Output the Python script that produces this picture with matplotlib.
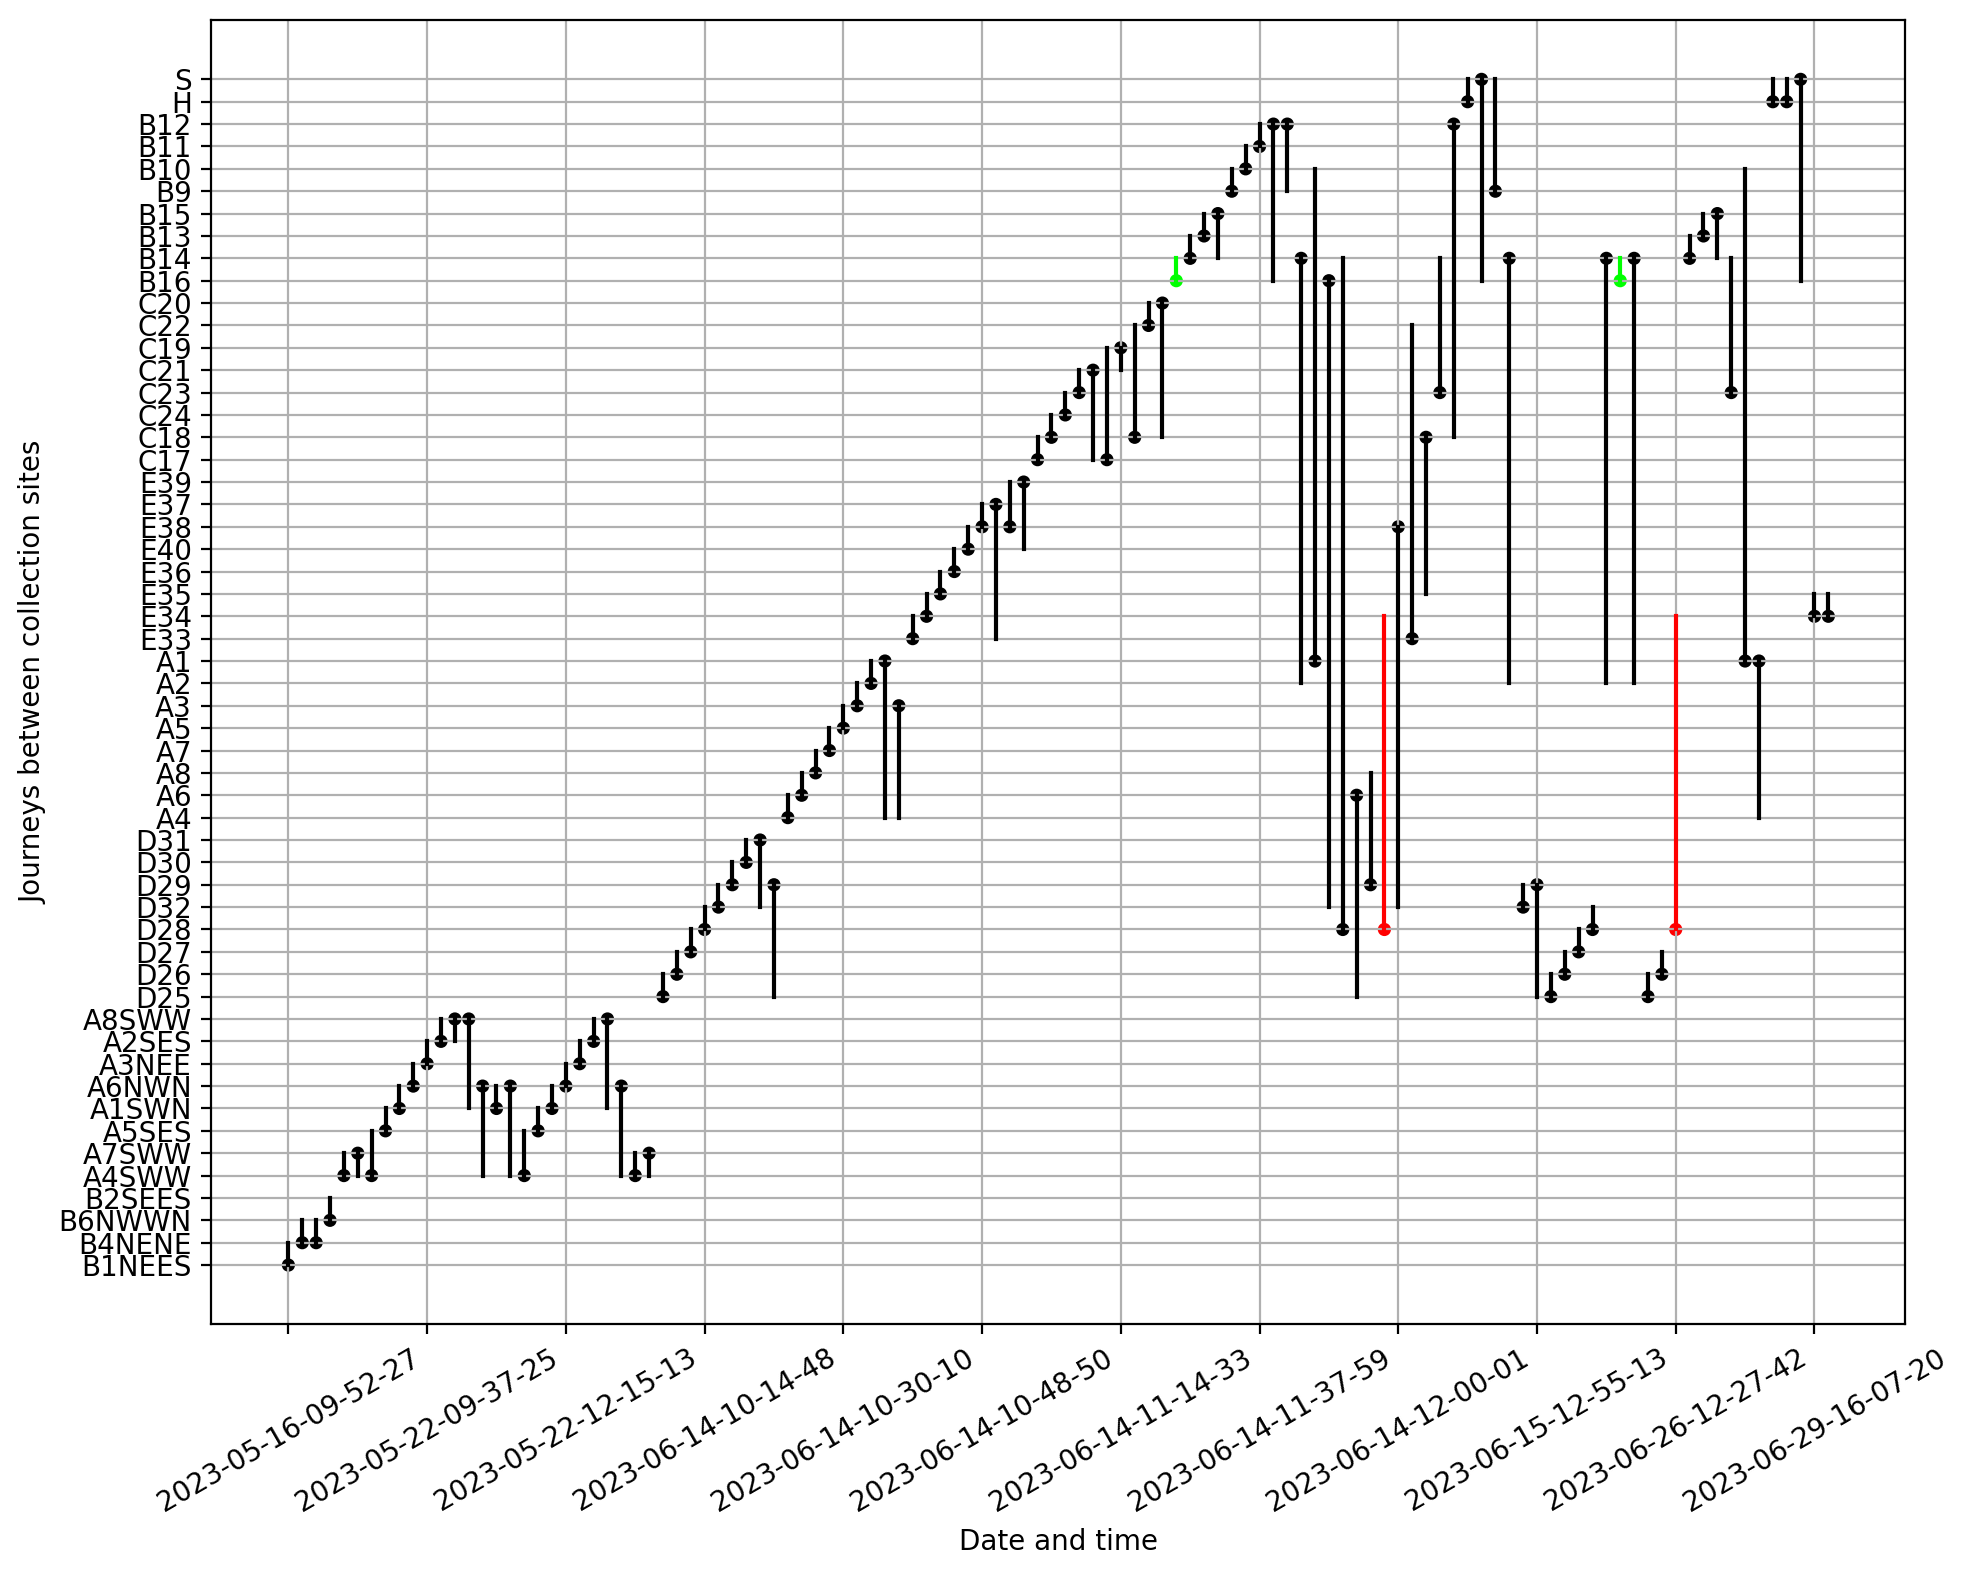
import numpy as np
import matplotlib
matplotlib.use("Agg")
import matplotlib.pyplot as plt

# collection sites, bottom to top of the y axis
sites = ["B1NEES", "B4NENE", "B6NWWN", "B2SEES", "A4SWW", "A7SWW", "A5SES", "A1SWN",
         "A6NWN", "A3NEE", "A2SES", "A8SWW", "D25", "D26", "D27", "D28", "D32", "D29",
         "D30", "D31", "A4", "A6", "A8", "A7", "A5", "A3", "A2", "A1", "E33", "E34",
         "E35", "E36", "E40", "E38", "E37", "E39", "C17", "C18", "C24", "C23", "C21",
         "C19", "C22", "C20", "B16", "B14", "B13", "B15", "B9", "B10", "B11", "B12",
         "H", "S"]

# journeys in time order: site where the marker sits, site where the line ends
journey_from = ["B1NEES", "B4NENE", "B4NENE", "B6NWWN", "A4SWW", "A7SWW", "A4SWW", "A5SES",
                "A1SWN", "A6NWN", "A3NEE", "A2SES", "A8SWW", "A8SWW", "A6NWN", "A1SWN",
                "A6NWN", "A4SWW", "A5SES", "A1SWN", "A6NWN", "A3NEE", "A2SES", "A8SWW",
                "A6NWN", "A4SWW", "A7SWW", "D25", "D26", "D27", "D28", "D32",
                "D29", "D30", "D31", "D29", "A4", "A6", "A8", "A7",
                "A5", "A3", "A2", "A1", "A3", "E33", "E34", "E35",
                "E36", "E40", "E38", "E37", "E38", "E39", "C17", "C18",
                "C24", "C23", "C21", "C17", "C19", "C18", "C22", "C20",
                "B16", "B14", "B13", "B15", "B9", "B10", "B11", "B12",
                "B12", "B14", "A1", "B16", "D28", "A6", "D29", "D28",
                "E38", "E33", "C18", "C23", "B12", "H", "S", "B9",
                "B14", "D32", "D29", "D25", "D26", "D27", "D28", "B14",
                "B16", "B14", "D25", "D26", "D28", "B14", "B13", "B15",
                "C23", "A1", "A1", "H", "H", "S", "E34", "E34"]
journey_to = ["B4NENE", "B6NWWN", "B6NWWN", "B2SEES", "A7SWW", "A4SWW", "A5SES", "A1SWN",
              "A6NWN", "A3NEE", "A2SES", "A8SWW", "A2SES", "A1SWN", "A4SWW", "A6NWN",
              "A4SWW", "A5SES", "A1SWN", "A6NWN", "A3NEE", "A2SES", "A8SWW", "A1SWN",
              "A4SWW", "A7SWW", "A4SWW", "D26", "D27", "D28", "D32", "D29",
              "D30", "D31", "D32", "D25", "A6", "A8", "A7", "A5",
              "A3", "A2", "A1", "A4", "A4", "E34", "E35", "E36",
              "E40", "E38", "E37", "E33", "E39", "E40", "C18", "C24",
              "C23", "C21", "C17", "C19", "C21", "C22", "C20", "C18",
              "B14", "B13", "B15", "B14", "B10", "B11", "B12", "B16",
              "B9", "A2", "B10", "D32", "B14", "D25", "A8", "E34",
              "D32", "C22", "E35", "B14", "C18", "S", "B16", "S",
              "A2", "D29", "D25", "D26", "D27", "D28", "D32", "A2",
              "B14", "A2", "D26", "D27", "E34", "B13", "B15", "B14",
              "B14", "B10", "A4", "S", "S", "B16", "E35", "E35"]

# 0 = normal, 1 = highlighted green, 2 = highlighted red
journey_flag = [0] * 112
journey_flag[64] = 1
journey_flag[96] = 1
journey_flag[79] = 2
journey_flag[100] = 2

tick_labels = ["2023-05-16-09-52-27", "2023-05-22-09-37-25", "2023-05-22-12-15-13",
               "2023-06-14-10-14-48", "2023-06-14-10-30-10", "2023-06-14-10-48-50",
               "2023-06-14-11-14-33", "2023-06-14-11-37-59", "2023-06-14-12-00-01",
               "2023-06-15-12-55-13", "2023-06-26-12-27-42", "2023-06-29-16-07-20"]

flag_colors = {0: "black", 1: "lime", 2: "red"}

site_idx = {s: i for i, s in enumerate(sites)}
y_from = np.array([site_idx[s] for s in journey_from])
y_to = np.array([site_idx[s] for s in journey_to])
x = np.arange(len(y_from))
cols = [flag_colors[f] for f in journey_flag]

fig = plt.figure(figsize=(9.86, 7.9), dpi=200)
ax = fig.add_axes([0.1072, 0.1618, 0.8590, 0.8255])

for i in range(len(x)):
    ax.plot([x[i], x[i]], [y_from[i], y_to[i]], color=cols[i], linewidth=1.5)
ax.scatter(x, y_from, c=cols, s=14, zorder=1)

ax.set_yticks(np.arange(len(sites)))
ax.set_yticklabels(sites)
ax.set_xticks(np.arange(0, len(x), 10))
ax.set_xticklabels(tick_labels, rotation=30)
ax.grid(True)
ax.set_xlabel("Date and time")
ax.set_ylabel("Journeys between collection sites")

fig.savefig("out.png", dpi=200)
